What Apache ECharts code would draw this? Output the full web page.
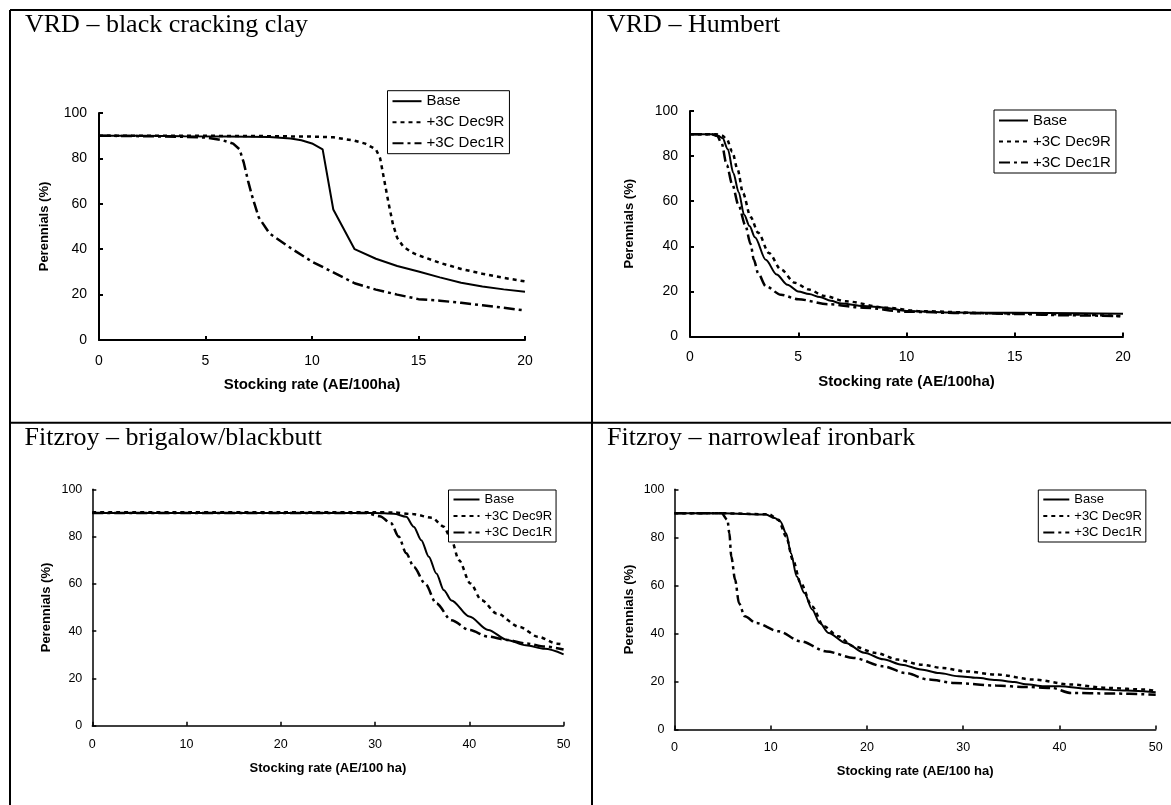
<!DOCTYPE html>
<html>
<head>
<meta charset="utf-8">
<title>Perennials vs stocking rate</title>
<style>
html, body { margin: 0; padding: 0; background: #fff; }
#main { width: 1171px; height: 805px; }
</style>
<script src="https://cdn.jsdelivr.net/npm/echarts@6/dist/echarts.min.js"></script>
</head>
<body>
<div id="main"></div>
<script>
// series names + panel text
var seriesNames = ['Base', '+3C Dec9R', '+3C Dec1R'];
var panelTitles = ['VRD \u2013 black cracking clay', 'VRD \u2013 Humbert', 'Fitzroy \u2013 brigalow/blackbutt', 'Fitzroy \u2013 narrowleaf ironbark'];
var xNames = ['Stocking rate (AE/100ha)', 'Stocking rate (AE/100ha)', 'Stocking rate (AE/100 ha)', 'Stocking rate (AE/100 ha)'];
var yName = 'Perennials (%)';
var xMax = [20, 20, 50, 50];
var xStep = [5, 5, 10, 10];

// VRD - black cracking clay  [stocking rate, perennials %]
var clayBase = [[0,90],[2,90],[4,89.8],[6,89.7],[8,89.4],[9,88.8],[9.5,88],[10,86.6],[10.5,84],[11,57.5],[12,40],[13,35.8],[14,32.6],[15,30.2],[16,27.6],[17,25.2],[18,23.6],[19,22.3],[20,21.3]];
var clayDec9R = [[0,90],[4,90],[8,89.8],[10,89.6],[11,89.3],[12,87.8],[12.5,86.5],[13,84],[13.2,80],[13.4,70],[13.6,60],[13.8,51],[14,45],[14.3,41],[14.7,38.5],[15,37.3],[16,34],[17,31.3],[18,29.2],[19,27.4],[20,25.8]];
var clayDec1R = [[0,90],[2,89.8],[4,89.5],[5,89.2],[5.8,88],[6.3,86.5],[6.6,84],[6.8,78],[7,70],[7.2,63],[7.5,54],[8,47],[9,40.5],[10,34.5],[11,29.8],[12,25],[13,22.2],[14,20],[15,18],[16,17.3],[17,16.4],[18,15.3],[19,14.2],[20,13]];

// VRD - Humbert
var humBase = [[0,89.7],[1,89.7],[1.3,89],[1.5,88],[1.75,83],[2,72.5],[2.25,64],[2.5,54],[2.75,49],[3,44],[3.5,34],[4,27.5],[4.5,23],[5,20],[5.5,18.8],[6,17.5],[6.5,15.8],[7,14.6],[8,13.5],[9,12.8],[10,11.3],[12,10.6],[15,10.5],[18,10.3],[20,10.1]];
var humDec9R = [[0,89.7],[1.2,89.7],[1.5,89],[1.7,87.5],[1.95,82],[2.2,74],[2.45,63.5],[2.8,53],[3.15,46],[3.65,37],[4.2,29.7],[4.85,23.8],[5.5,20.8],[6.2,18],[7.2,15.6],[9,12.8],[10.7,11.2],[14,10.3],[17.5,9.8],[20,9]];
var humDec1R = [[0,89.7],[1,89.7],[1.25,89],[1.45,86],[1.7,76],[1.95,67.5],[2.25,58],[2.55,49.5],[2.8,41],[2.95,34],[3.15,28],[3.5,22.3],[4.2,18.5],[5,16.5],[6.4,14.3],[8,12.8],[10,11],[12.5,10.4],[15,10],[17.5,9.4],[20,9]];

// Fitzroy - brigalow/blackbutt
var brigBase = [[0,90],[10,90],[20,90],[30,90],[32,89.7],[33.3,88.4],[34.1,84.2],[34.9,78.5],[35.7,71.5],[36.5,64.4],[37.3,57.3],[38.1,53],[40,46.2],[42,40.5],[44,36.3],[46,34],[48,32.5],[50,30.2]];
var brigDec9R = [[0,90.3],[10,90.3],[20,90.3],[30,90.3],[32,90.2],[34,89.5],[36,88],[37.3,84.2],[38.1,78.5],[38.9,70],[40.1,60.2],[41.3,53.1],[42.9,47.5],[45.3,41.8],[47.3,37.6],[49.3,34.7],[50,34.3]];
var brigDec1R = [[0,90],[10,90],[20,90],[29,90],[30.5,88.6],[31.7,85.6],[32.5,80],[33.3,73],[34.1,67.2],[35.3,60.2],[36.5,51.7],[38.1,44.6],[40,40.5],[42,37.7],[44,36.3],[46,34.8],[48,33.5],[50,32.2]];

// Fitzroy - narrowleaf ironbark
var ironBase = [[0,90],[5,90],[9.5,89.5],[10.4,88],[11,86.6],[11.6,81.7],[12.1,73.4],[12.7,63.7],[13.5,56.8],[14.3,50],[15.1,44.3],[16,40.2],[17.8,36],[19.7,32],[21.7,29.2],[23.6,27],[25.6,25],[27.5,23.5],[29.5,22.2],[31.4,21.5],[33.4,20.6],[35.3,19.8],[36.5,18.8],[38.4,18],[40,18],[43,17],[47,16.2],[50,15.5]];
var ironDec9R = [[0,90],[5,90],[9.8,89.6],[10.8,87.3],[11.6,80.3],[12.3,70.6],[13.1,61],[14.3,51.2],[15.5,43],[17,38.8],[18.6,34.6],[20.9,31.9],[23.2,29.1],[25.6,27],[27.9,25.6],[30.2,24.2],[33.4,22.9],[37.3,20.8],[41.2,18.7],[45.1,17.3],[49,16.6],[50,16]];
var ironDec1R = [[0,90],[4.9,90],[5.5,87.3],[5.7,81.7],[5.9,72],[6.3,62.3],[6.7,52.6],[7.3,47.1],[8.5,44.3],[10.8,40.9],[13.1,36.7],[15.8,32.5],[18.6,29.8],[21.7,26.3],[24,23.5],[26.4,20.8],[29.1,19.4],[33.4,18.3],[36.5,17.7],[39.2,17.3],[41.2,15.2],[45.1,15],[50,14.5]];

var panelData = [
	[clayBase, clayDec9R, clayDec1R],
	[humBase, humDec9R, humDec1R],
	[brigBase, brigDec9R, brigDec1R],
	[ironBase, ironDec9R, ironDec1R]
];

var sansFont = 'Arial, "Liberation Sans", sans-serif';
var serifFont = '"Times New Roman", "Liberation Serif", serif';

// line look for each scenario
var lineLook = [
	{ type: 'solid', width: 2 },
	{ type: [4, 4], width: 2.5 },
	{ type: [11, 4, 3, 4], width: 2.5 }
];

// layout of the four panels (pixels)
var panels = [
	{ grid: { left: 99, top: 113, width: 426, height: 227 }, title: [25, 12], legend: [387.5, 90.7], big: true, smooth: false, xGap: 37, yGap: 48 },
	{ grid: { left: 690, top: 111, width: 433, height: 225.5 }, title: [607, 12], legend: [994, 110], big: true, smooth: 0.3, xGap: 38, yGap: 54 },
	{ grid: { left: 92.3, top: 489.3, width: 471.3, height: 236.4 }, title: [24.5, 425], legend: [448.5, 490], big: false, smooth: 0.3, xGap: 36, yGap: 39 },
	{ grid: { left: 674.5, top: 489.3, width: 481.2, height: 240.2 }, title: [607, 425], legend: [1038.3, 490], big: false, smooth: 0.3, xGap: 35, yGap: 39 }
];

var grids = [], xAxes = [], yAxes = [], titles = [], legends = [], series = [];

panels.forEach(function (p, i) {
	var tickSize = p.big ? 14 : 12.5;
	var nameSize = p.big ? 15 : 13;
	var axisW = p.big ? 2 : 1.5;

	grids.push(p.grid);

	titles.push({
		text: panelTitles[i],
		left: p.title[0],
		top: p.title[1],
		padding: 0,
		textStyle: { fontFamily: serifFont, fontSize: 26, fontWeight: 'normal', color: '#000' }
	});

	xAxes.push({
		type: 'value',
		gridIndex: i,
		min: 0,
		max: xMax[i],
		interval: xStep[i],
		name: xNames[i],
		nameLocation: 'middle',
		nameGap: p.xGap,
		nameTextStyle: { fontFamily: sansFont, fontSize: nameSize, fontWeight: 'bold', color: '#000' },
		axisLine: { lineStyle: { color: '#000', width: axisW } },
		axisTick: { inside: true, length: 4, lineStyle: { color: '#000', width: axisW } },
		axisLabel: { fontFamily: sansFont, fontSize: tickSize, color: '#000', margin: p.big ? 14 : 12 },
		splitLine: { show: false }
	});

	yAxes.push({
		type: 'value',
		gridIndex: i,
		min: 0,
		max: 100,
		interval: 20,
		name: yName,
		nameLocation: 'middle',
		nameGap: p.yGap,
		nameRotate: 90,
		nameTextStyle: { fontFamily: sansFont, fontSize: 13, fontWeight: 'bold', color: '#000' },
		axisLine: { show: true, lineStyle: { color: '#000', width: axisW } },
		axisTick: { show: true, inside: true, length: 4, lineStyle: { color: '#000', width: axisW } },
		axisLabel: { fontFamily: sansFont, fontSize: tickSize, color: '#000', margin: p.big ? 12 : 10 },
		splitLine: { show: false }
	});

	legends.push({
		orient: 'vertical',
		left: p.legend[0],
		top: p.legend[1],
		data: seriesNames,
		selectedMode: false,
		backgroundColor: '#fff',
		borderColor: '#000',
		borderWidth: 1,
		borderRadius: 0,
		padding: p.big ? [3, 5, 3, 4] : [3, 4, 3, 4],
		itemWidth: p.big ? 29 : 26,
		itemHeight: p.big ? 14 : 12,
		itemGap: p.big ? 6 : 3.5,
		itemStyle: { opacity: 0 },
		textStyle: { fontFamily: sansFont, fontSize: p.big ? 15 : 13, color: '#000', lineHeight: p.big ? 14 : 12 }
	});

	panelData[i].forEach(function (d, j) {
		series.push({
			name: seriesNames[j],
			type: 'line',
			xAxisIndex: i,
			yAxisIndex: i,
			data: d,
			symbol: 'none',
			smooth: j === 0 && i === 0 ? false : p.smooth,
			smoothMonotone: 'x',
			z: 3 - j,
			lineStyle: { color: '#000', type: lineLook[j].type, width: lineLook[j].width },
			itemStyle: { color: '#000' }
		});
	});
});

// table rules around the four panels
var ruleStyle = { stroke: '#000', lineWidth: 2 };
var rules = [
	{ type: 'line', shape: { x1: 10, y1: 10, x2: 1171, y2: 10 }, style: ruleStyle },
	{ type: 'line', shape: { x1: 10, y1: 422.7, x2: 1171, y2: 422.7 }, style: ruleStyle },
	{ type: 'line', shape: { x1: 10, y1: 10, x2: 10, y2: 805 }, style: ruleStyle },
	{ type: 'line', shape: { x1: 592, y1: 10, x2: 592, y2: 805 }, style: ruleStyle }
];

var chart = echarts.init(document.getElementById('main'));
chart.setOption({
	animation: false,
	backgroundColor: '#fff',
	title: titles,
	legend: legends,
	grid: grids,
	xAxis: xAxes,
	yAxis: yAxes,
	series: series,
	graphic: rules
});
</script>
</body>
</html>
